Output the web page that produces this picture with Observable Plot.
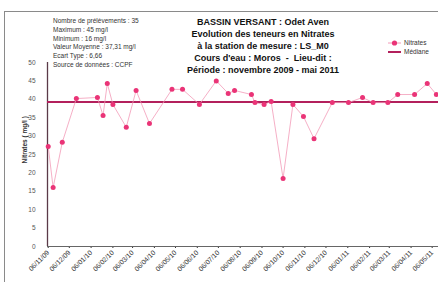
<!DOCTYPE html>
<html>
<head>
<meta charset="utf-8">
<script src="https://cdn.jsdelivr.net/npm/d3@7"></script>
<script src="https://cdn.jsdelivr.net/npm/@observablehq/plot@0.6"></script>
<style>
  html, body { margin: 0; padding: 0; background: #fff; }
  #wrap { position: relative; width: 438px; height: 282px; overflow: hidden; font-family: "Liberation Sans", Arial, sans-serif; }
  #border { position: absolute; left: 4px; top: 11px; width: 460px; height: 300px; border: 1.5px solid #8a8a8a; box-sizing: border-box; }
  #stats { position: absolute; left: 53px; top: 17px; font-size: 6.5px; line-height: 8.8px; color: #333; white-space: pre; }
  #title { position: absolute; left: 163px; width: 200px; top: 17px; font-size: 9px; line-height: 11.9px; font-weight: bold; text-align: center; color: #111; white-space: pre; }
  #legend { position: absolute; left: 388px; top: 38px; font-size: 6.5px; line-height: 9px; color: #333; }
  #legend div { display: flex; align-items: center; }
  #legend svg { margin-right: 3px; }
  #chart { position: absolute; left: 0; top: 0; }
</style>
</head>
<body>
<div id="wrap">
  <div id="border"></div>
  <div id="chart"></div>
  <div id="stats"></div>
  <div id="title"></div>
  <div id="legend"></div>
</div>
<script>
// ---- data ----
const sampleDates = ["2009-11-06","2009-11-13","2009-11-26","2009-12-16","2010-01-15","2010-01-23","2010-01-29","2010-02-06","2010-02-25","2010-03-11","2010-03-30","2010-05-01","2010-05-16","2010-06-09","2010-07-03","2010-07-20","2010-07-29","2010-08-22","2010-08-27","2010-09-09","2010-09-19","2010-10-06","2010-10-20","2010-11-04","2010-11-19","2010-12-15","2011-01-07","2011-01-27","2011-02-11","2011-03-04","2011-03-18","2011-04-11","2011-04-29","2011-05-12"];
const nitrates = [27.2,16,28.3,40.2,40.5,35.6,44.3,38.6,32.4,42.4,33.4,42.7,42.7,38.6,45,41.6,42.4,41.3,39.1,38.6,39.4,18.5,38.6,35.3,29.3,39.1,39.1,40.5,39.1,39.1,41.3,41.3,44.3,41.3];
const medianValue = [39.3];
const xTickDates = ["2009-11-06","2009-12-06","2010-01-06","2010-02-06","2010-03-06","2010-04-06","2010-05-06","2010-06-06","2010-07-06","2010-08-06","2010-09-06","2010-10-06","2010-11-06","2010-12-06","2011-01-06","2011-02-06","2011-03-06","2011-04-06","2011-05-06"];
const xDomain = ["2009-11-05","2011-05-15"];
const yTicks = [0,5,10,15,20,25,30,35,40,45,50];
const yLabel = "Nitrates ( mg/l )";
const titleLines = ["BASSIN VERSANT : Odet Aven","Evolution des teneurs en Nitrates","à la station de mesure : LS_M0","Cours d'eau : Moros  -  Lieu-dit :","Période : novembre 2009 - mai 2011"];
const statsLines = ["Nombre de prélèvements : 35","Maximum : 45 mg/l","Minimum : 16 mg/l","Valeur Moyenne : 37,31 mg/l","Ecart Type : 6,66","Source de données : CCPF"];
const seriesNames = ["Nitrates","Médiane"];

const pink = "#ea3477";
const lightPink = "#f39ab8";
const crimson = "#b3205c";

const data = sampleDates.map((d, i) => ({date: new Date(d), value: nitrates[i]}));

const chart = Plot.plot({
  width: 438,
  height: 282,
  marginLeft: 47,
  marginRight: 0,
  marginTop: 62,
  marginBottom: 36,
  style: {fontFamily: "Liberation Sans, Arial, sans-serif", background: "transparent", overflow: "visible"},
  x: {type: "utc", domain: xDomain.map(d => new Date(d))},
  y: {domain: [0, 50]},
  marks: [
    Plot.axisY({ticks: yTicks, tickSize: 0, tickPadding: 12, fontSize: 6.5, color: "#555", label: null}),
    Plot.axisX({ticks: xTickDates.map(d => new Date(d)), tickFormat: d3.utcFormat("%d/%m/%y"), tickRotate: -45, tickSize: 2, tickPadding: 3, fontSize: 6.8, color: "#333", label: null}),
    Plot.text([yLabel], {frameAnchor: "left", rotate: -90, dx: -23, dy: 9, fontSize: 6.5, fontWeight: "bold", fill: "#333"}),
    Plot.ruleX([xDomain[0]].map(d => new Date(d)), {stroke: "#5a3a48", strokeWidth: 1.3}),
    Plot.ruleY([0], {stroke: "#666", strokeWidth: 1.2}),
    Plot.ruleY(medianValue, {stroke: crimson, strokeWidth: 2}),
    Plot.line(data, {x: "date", y: "value", stroke: lightPink, strokeWidth: 0.8}),
    Plot.dot(data, {x: "date", y: "value", r: 2.5, fill: pink, stroke: "none"})
  ]
});
document.getElementById("chart").appendChild(chart);

document.getElementById("stats").textContent = statsLines.join("\n");
document.getElementById("title").textContent = titleLines.join("\n");

const legend = document.getElementById("legend");
legend.innerHTML =
  `<div><svg width="13" height="8"><line x1="0" x2="13" y1="4" y2="4" stroke="${lightPink}" stroke-width="1"/><circle cx="6.5" cy="4" r="2.6" fill="${pink}"/></svg><span>${seriesNames[0]}</span></div>` +
  `<div><svg width="13" height="8"><line x1="0" x2="13" y1="4" y2="4" stroke="${crimson}" stroke-width="2"/></svg><span>${seriesNames[1]}</span></div>`;
</script>
</body>
</html>
